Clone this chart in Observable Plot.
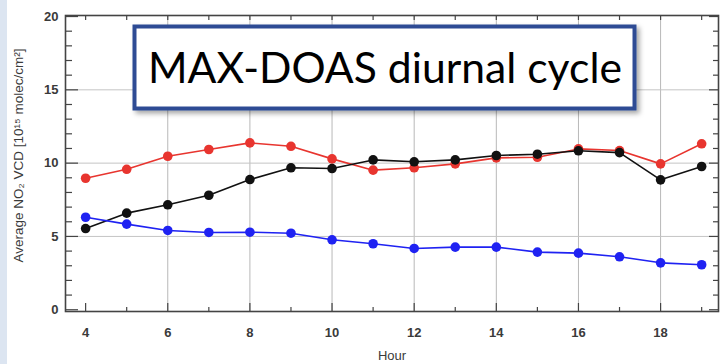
<!DOCTYPE html>
<html>
<head>
<meta charset="utf-8">
<script src="https://cdn.jsdelivr.net/npm/d3@7"></script>
<script src="https://cdn.jsdelivr.net/npm/@observablehq/plot@0.6"></script>
<style>
  html, body { margin: 0; padding: 0; background: #fff; }
  #wrap { position: relative; width: 720px; height: 364px; overflow: hidden;
          background: linear-gradient(to right, #dce5f1 0px, #dce5f1 7px, #ffffff 7px); }
  #wrap > svg.plot { position: absolute; left: 0; top: 0; background: transparent; }
  #overlay { position: absolute; left: 0; top: 0; pointer-events: none; }
</style>
</head>
<body>
<div id="wrap"></div>
<script>
// ---- data ----
const hours = [4, 5, 6, 7, 8, 9, 10, 11, 12, 13, 14, 15, 16, 17, 18, 19];
const redSeries   = [8.97, 9.58, 10.47, 10.93, 11.38, 11.15, 10.29, 9.52, 9.68, 9.95, 10.36, 10.40, 10.97, 10.86, 9.95, 11.32];
const blackSeries = [5.54, 6.59, 7.16, 7.81, 8.88, 9.68, 9.63, 10.22, 10.09, 10.22, 10.52, 10.61, 10.84, 10.72, 8.86, 9.77];
const blueSeries  = [6.31, 5.84, 5.41, 5.27, 5.29, 5.22, 4.77, 4.50, 4.18, 4.27, 4.27, 3.93, 3.86, 3.61, 3.20, 3.07];

const xTickLabels = [4, 6, 8, 10, 12, 14, 16, 18];
const xMinorTicks = [5, 7, 9, 11, 13, 15, 17, 19];
const xGrid = [6, 8, 10, 12, 14, 16, 18];
const yTickLabels = [0, 5, 10, 15, 20];
const yMinorTicks = d3.range(1, 20).filter(v => v % 5 !== 0);
const yGrid = [5, 10, 15];

const titleText = "MAX-DOAS diurnal cycle";
const xLabel = "Hour";
const yLabel = "Average NO\u2082 VCD [10\u00B9\u2075 molec/cm\u00B2]";

const series = [
  {name: "red", color: "#e8352f", values: redSeries},
  {name: "black", color: "#111111", values: blackSeries},
  {name: "blue", color: "#1f22f2", values: blueSeries}
];
const table = series.flatMap(s => hours.map((h, i) => ({hour: h, value: s.values[i], name: s.name, color: s.color})));

const W = 720, H = 364, mL = 65, mR = 2, mT = 15, mB = 53;
const frameH = H - mT - mB, frameW = W - mL - mR;

const chart = Plot.plot({
  width: W, height: H,
  marginLeft: mL, marginRight: mR, marginTop: mT, marginBottom: mB,
  style: {fontFamily: "'Liberation Sans', Arial, sans-serif", background: "transparent"},
  x: {domain: [3.51, 19.41], axis: null},
  y: {domain: [-0.12, 20.07], axis: null},
  marks: [
    Plot.gridX(xGrid, {stroke: "#b8b8b8", strokeOpacity: 1, strokeWidth: 1}),
    Plot.gridY(yGrid, {stroke: "#c4c4c4", strokeOpacity: 1, strokeWidth: 1}),
    // inward ticks
    Plot.ruleY(yTickLabels, {stroke: "#444", strokeWidth: 1.2, insetRight: frameW - 13}),
    Plot.ruleY(yMinorTicks, {stroke: "#444", strokeWidth: 1.2, insetRight: frameW - 7}),
    Plot.ruleY(yTickLabels, {stroke: "#444", strokeWidth: 1.2, insetLeft: frameW - 9}),
    Plot.ruleY(yMinorTicks, {stroke: "#444", strokeWidth: 1.2, insetLeft: frameW - 5}),
    Plot.ruleX(xTickLabels, {stroke: "#444", strokeWidth: 1.2, insetTop: frameH - 8}),
    Plot.ruleX(xMinorTicks, {stroke: "#444", strokeWidth: 1.2, insetTop: frameH - 4}),
    Plot.ruleX(hours, {stroke: "#444", strokeWidth: 1.2, insetBottom: frameH - 5}),
    Plot.frame({stroke: "#444", strokeWidth: 1.6}),
    Plot.axisY(yTickLabels, {tickSize: 0, tickPadding: 7, fontSize: 13, fontWeight: "bold", fill: "#3a3a3a", label: null}),
    Plot.axisX(xTickLabels, {tickSize: 0, tickPadding: 16, fontSize: 13, fontWeight: "bold", fill: "#3a3a3a", label: null}),
    Plot.text([xLabel], {frameAnchor: "bottom", dy: 44, fontSize: 13, fill: "#3a3a3a", lineAnchor: "middle"}),
    Plot.text([yLabel], {frameAnchor: "left", textAnchor: "middle", dx: -47, dy: -8, rotate: -90, fontSize: 13.5, fill: "#3a3a3a", lineAnchor: "middle"}),
    Plot.line(table, {x: "hour", y: "value", z: "name", stroke: "color", strokeWidth: 1.6}),
    Plot.dot(table, {x: "hour", y: "value", fill: "color", r: 4.8, stroke: "none"})
  ]
});
document.getElementById("wrap").appendChild(chart);

// title box overlay
const ov = d3.select("#wrap").append("svg").attr("id", "overlay")
  .attr("width", W).attr("height", H);
const defs = ov.append("defs");
const f = defs.append("filter").attr("id", "sh").attr("x", "-10%").attr("y", "-10%").attr("width", "130%").attr("height", "140%");
f.append("feDropShadow").attr("dx", 3).attr("dy", 3).attr("stdDeviation", 2.5).attr("flood-color", "#000").attr("flood-opacity", 0.35);
ov.append("rect").attr("x", 134.5).attr("y", 26.5).attr("width", 500).attr("height", 82)
  .attr("fill", "#fff").attr("stroke", "#2f4b94").attr("stroke-width", 4).attr("filter", "url(#sh)");
ov.append("text").attr("x", 148).attr("y", 83)
  .attr("font-family", "Lato, 'Open Sans', sans-serif").attr("font-size", 43)
  .attr("fill", "#000").attr("textLength", 474).attr("lengthAdjust", "spacingAndGlyphs")
  .text(titleText);
</script>
</body>
</html>
